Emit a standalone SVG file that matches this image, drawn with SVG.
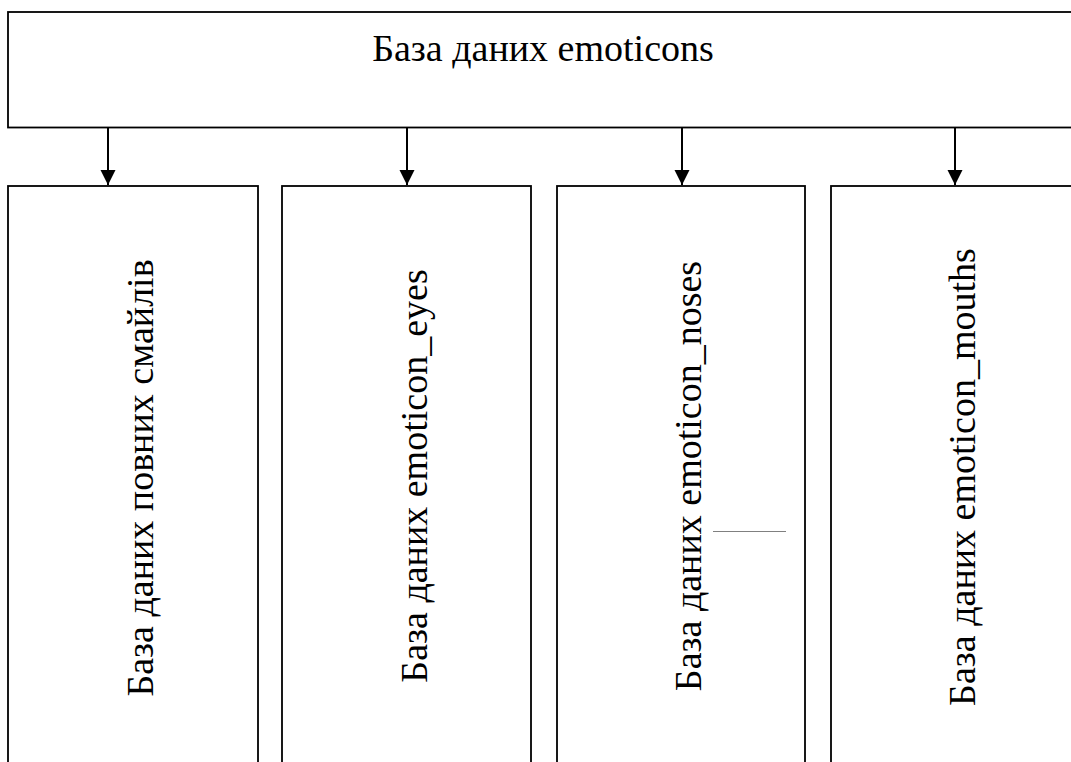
<svg xmlns="http://www.w3.org/2000/svg" width="1071" height="762" viewBox="0 0 1071 762">
<style>
.box{fill:#fff;stroke:#000;stroke-width:1.8}
.lbl{font-family:"Liberation Serif","Times New Roman",serif;font-size:38px;fill:#000;text-anchor:middle}
.conn{stroke:#000;stroke-width:2;fill:none}
</style>
<defs>
<marker id="ah" markerUnits="userSpaceOnUse" markerWidth="16" markerHeight="16" viewBox="0 0 16 16" refX="15" refY="8" orient="auto">
<path d="M0,0.5 L15,8 L0,15.5 Z" fill="#000"/>
</marker>
</defs>
<rect width="1071" height="762" fill="#fff"/>
<g id="root">
<rect class="box" x="8" y="12" width="1080" height="115.5"/>
<text class="lbl" x="543" y="61">База даних emoticons</text>
</g>
<g id="full">
<rect class="box" x="8" y="186" width="250" height="600"/>
<text class="lbl" transform="translate(153,478) rotate(-90)">База даних повних смайлів</text>
</g>
<g id="eyes">
<rect class="box" x="282" y="186" width="249" height="600"/>
<text class="lbl" transform="translate(427,476) rotate(-90)">База даних emoticon_eyes</text>
</g>
<g id="noses">
<rect class="box" x="557" y="186" width="248" height="600"/>
<text class="lbl" transform="translate(701,476) rotate(-90)">База даних emoticon_noses</text>
<line x1="713" y1="531.5" x2="786" y2="531.5" stroke="#808080" stroke-width="1"/>
</g>
<g id="mouths">
<rect class="box" x="831" y="186" width="260" height="600"/>
<text class="lbl" transform="translate(975,477) rotate(-90)">База даних emoticon_mouths</text>
</g>
<g id="connectors">
<line class="conn" x1="108" y1="127.5" x2="108" y2="185" marker-end="url(#ah)"/>
<line class="conn" x1="407" y1="127.5" x2="407" y2="185" marker-end="url(#ah)"/>
<line class="conn" x1="682" y1="127.5" x2="682" y2="185" marker-end="url(#ah)"/>
<line class="conn" x1="955" y1="127.5" x2="955" y2="185" marker-end="url(#ah)"/>
</g>
</svg>
